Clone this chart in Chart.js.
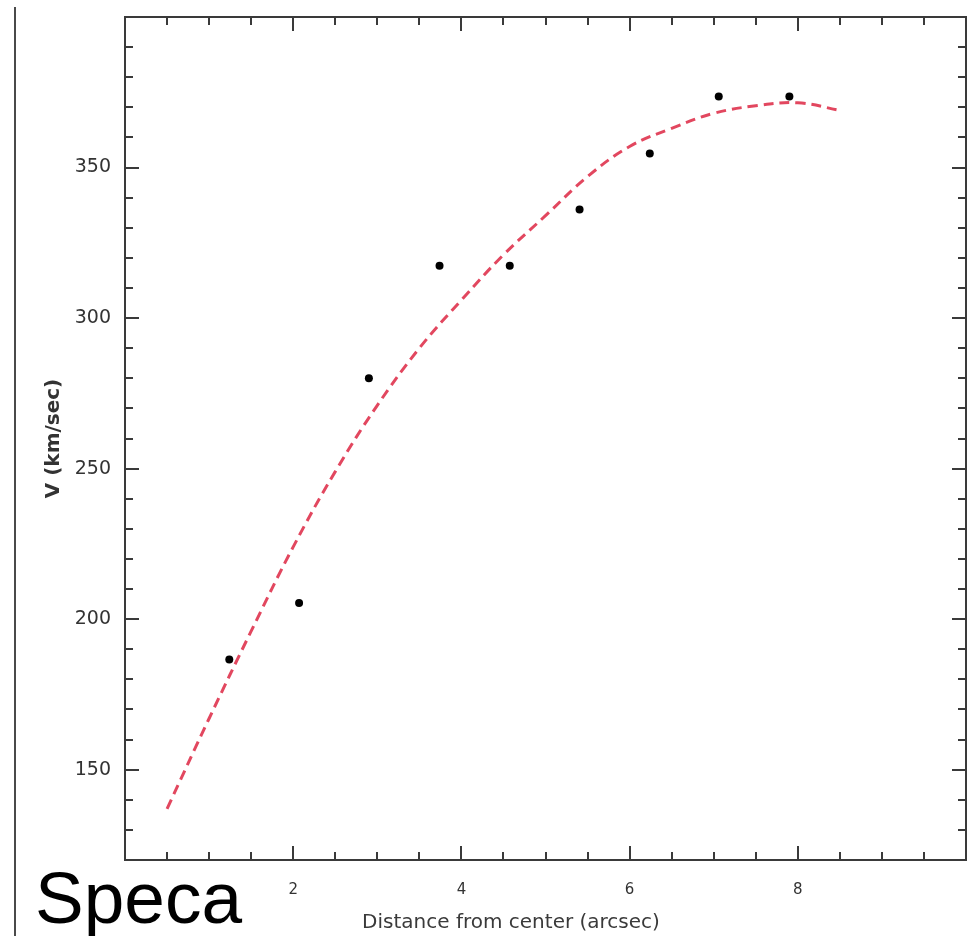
<!DOCTYPE html>
<html>
<head>
<meta charset="utf-8">
<script src="https://cdn.jsdelivr.net/npm/chart.js@4.4.1/dist/chart.umd.min.js"></script>
<style>
  html, body { margin: 0; padding: 0; background: #ffffff; }
  #wrap { position: relative; width: 973px; height: 936px; }
</style>
</head>
<body>
<div id="wrap"><canvas id="c" width="973" height="936"></canvas></div>
<script>
// ---- data ----
const pointX = [1.24, 2.07, 2.90, 3.74, 4.575, 5.405, 6.24, 7.06, 7.90];
const pointY = [186.6, 205.4, 280.0, 317.4, 317.4, 336.1, 354.7, 373.6, 373.6];
const curveX = [0.5, 1.0, 1.5, 2.0, 2.5, 3.0, 3.5, 4.0, 4.5, 5.0, 5.5, 6.0, 6.5, 7.0, 7.5, 8.0, 8.5];
const curveY = [137, 167, 196, 224, 249, 271, 290, 306, 321, 334, 347, 357, 363, 368, 370.5, 371.5, 369];
const xTickLabels = [2, 4, 6, 8];
const yTickLabels = [150, 200, 250, 300, 350];
const xMinorTicks = [0.5,1,1.5,2,2.5,3,3.5,4,4.5,5,5.5,6,6.5,7,7.5,8,8.5,9,9.5];
const yMinorTicks = [130,140,150,160,170,180,190,200,210,220,230,240,250,260,270,280,290,300,310,320,330,340,350,360,370,380,390];
const xTitle = 'Distance from center (arcsec)';
const yTitle = 'V (km/sec)';
const cornerText = 'Speca';

const framePlugin = {
  id: 'frame',
  afterDraw(chart) {
    const { ctx, chartArea: a, scales: { x, y } } = chart;
    ctx.save();
    ctx.strokeStyle = '#3a3a3a';
    ctx.lineWidth = 2;
    ctx.strokeRect(a.left, a.top, a.right - a.left, a.bottom - a.top);
    ctx.beginPath();
    xMinorTicks.forEach(v => {
      const px = Math.round(x.getPixelForValue(v));
      const len = xTickLabels.includes(v) ? 14 : 8;
      ctx.moveTo(px, a.bottom); ctx.lineTo(px, a.bottom - len);
      ctx.moveTo(px, a.top); ctx.lineTo(px, a.top + len);
    });
    yMinorTicks.forEach(v => {
      const py = Math.round(y.getPixelForValue(v));
      const len = yTickLabels.includes(v) ? 14 : 8;
      ctx.moveTo(a.left, py); ctx.lineTo(a.left + len, py);
      ctx.moveTo(a.right, py); ctx.lineTo(a.right - len, py);
    });
    ctx.stroke();
    // x axis title
    ctx.fillStyle = '#3a3a3a';
    ctx.font = '20px "DejaVu Sans"';
    ctx.textAlign = 'center';
    ctx.textBaseline = 'middle';
    ctx.fillText(xTitle, 511, 923);
    // left page rule
    ctx.strokeStyle = '#4a4a4a';
    ctx.lineWidth = 2;
    ctx.beginPath();
    ctx.moveTo(15, 7); ctx.lineTo(15, 936);
    ctx.stroke();
    // corner text
    ctx.fillStyle = '#000000';
    ctx.font = '73px "Liberation Sans"';
    ctx.textAlign = 'left';
    ctx.textBaseline = 'alphabetic';
    ctx.fillText(cornerText, 35, 923);
    ctx.restore();
  }
};

new Chart(document.getElementById('c'), {
  type: 'scatter',
  data: {
    datasets: [
      {
        label: 'fit',
        data: curveX.map((v, i) => ({ x: v, y: curveY[i] })),
        showLine: true,
        borderColor: '#e2475f',
        borderWidth: 3,
        borderDash: [10, 6],
        tension: 0.4,
        pointRadius: 0,
        pointHoverRadius: 0,
        fill: false
      },
      {
        label: 'data',
        data: pointX.map((v, i) => ({ x: v, y: pointY[i] })),
        showLine: false,
        pointRadius: 4,
        pointBackgroundColor: '#000000',
        pointBorderColor: '#000000',
        pointBorderWidth: 0
      }
    ]
  },
  options: {
    responsive: false,
    animation: false,
    events: [],
    layout: { padding: { left: 0, top: 17, right: 7, bottom: 0 } },
    plugins: { legend: { display: false }, tooltip: { enabled: false } },
    scales: {
      x: {
        type: 'linear',
        min: 0, max: 10,
        afterBuildTicks: s => { s.ticks = xTickLabels.map(v => ({ value: v })); },
        afterFit: s => { s.height = 76; s.paddingLeft = 0; s.paddingRight = 0; },
        grid: { display: false, drawTicks: false, tickLength: 0 },
        border: { display: false },
        ticks: {
          font: { family: 'DejaVu Sans', size: 15 },
          color: '#333333',
          padding: 21,
          maxRotation: 0,
          autoSkip: false
        }
      },
      y: {
        type: 'linear',
        min: 120, max: 400,
        afterBuildTicks: s => { s.ticks = yTickLabels.map(v => ({ value: v })); },
        afterFit: s => { s.width = 125; s.paddingTop = 0; s.paddingBottom = 0; },
        grid: { display: false, drawTicks: false, tickLength: 0 },
        border: { display: false },
        ticks: {
          font: { family: 'DejaVu Sans', size: 19 },
          color: '#333333',
          padding: 14,
          autoSkip: false
        },
        title: {
          display: true,
          text: yTitle,
          font: { family: 'DejaVu Sans', size: 20, weight: 'bold' },
          color: '#333333',
          padding: { top: 42, bottom: 0 }
        }
      }
    }
  },
  plugins: [framePlugin]
});
</script>
</body>
</html>
